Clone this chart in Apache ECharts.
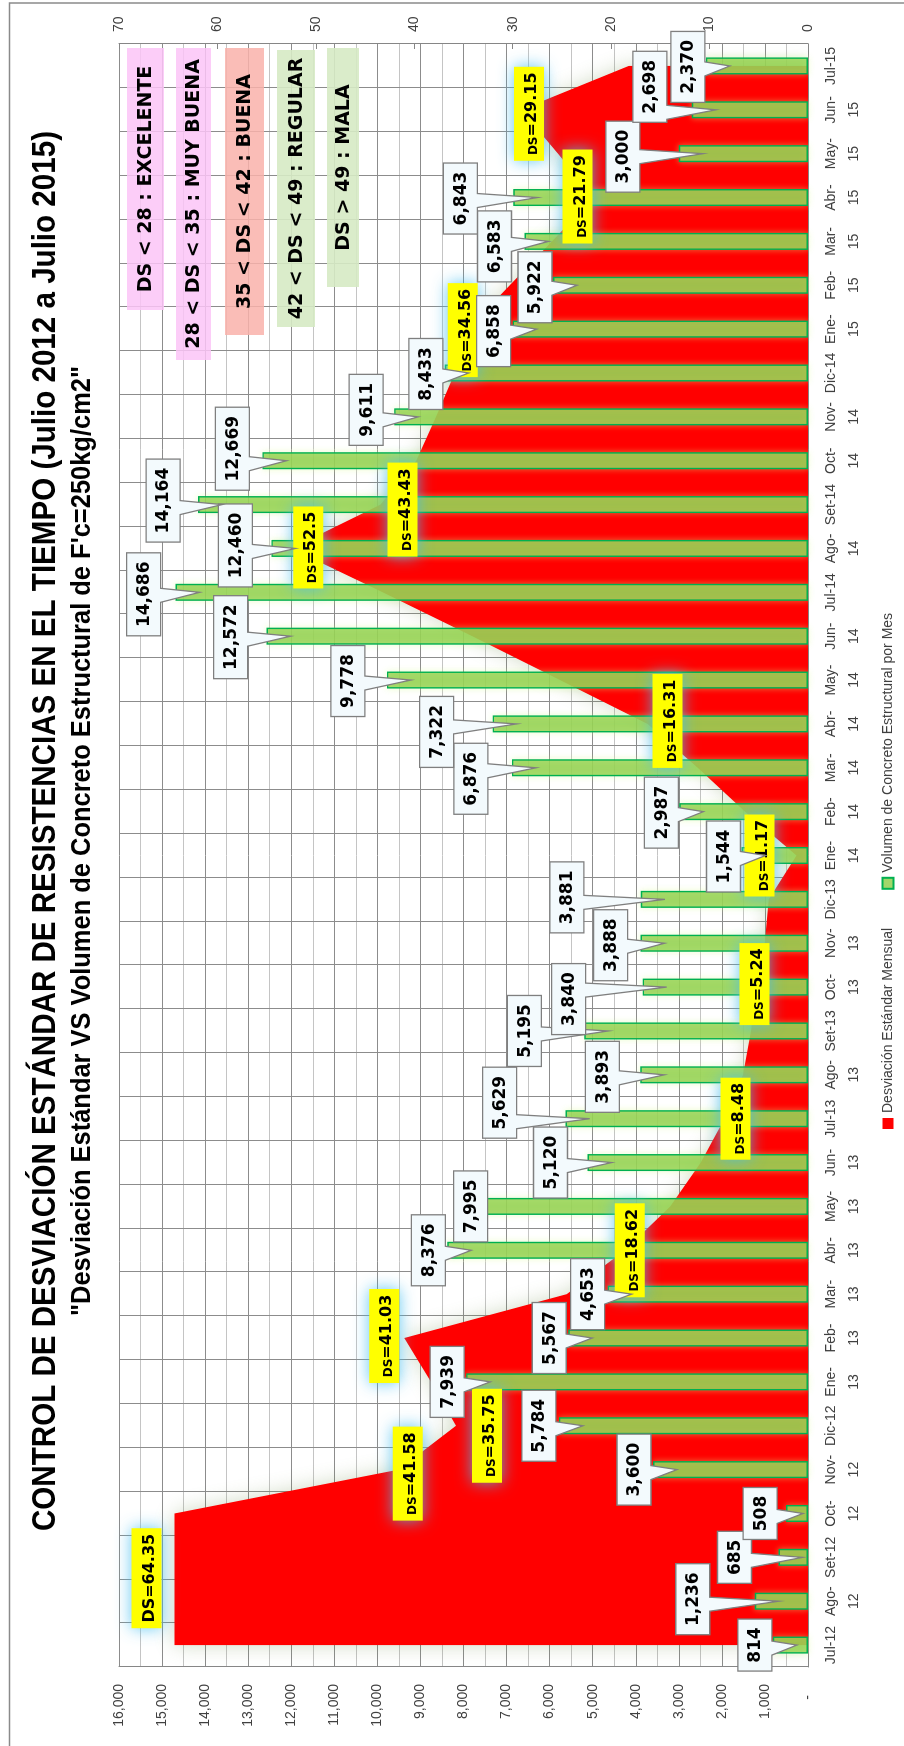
<!DOCTYPE html>
<html lang="es">
<head>
<meta charset="utf-8">
<title>Control de Desviación Estándar</title>
<script src="https://cdn.jsdelivr.net/npm/echarts@6/dist/echarts.min.js"></script>
<style>
  html, body { margin: 0; padding: 0; background: #fff; }
  body { width: 904px; height: 1746px; overflow: hidden; position: relative; }
  /* the chart is laid out in landscape, then turned a quarter turn to stand on the portrait page */
  #chart { position: absolute; left: 0; top: 0; width: 1746px; height: 904px;
           transform-origin: 0 0; transform: translate(0, 1746px) rotate(-90deg); }
</style>
</head>
<body>
<div id="chart"></div>
<script>
// ---- data ----
const categorias = ['Jul-12','Ago-\n12','Set-12','Oct-\n12','Nov-\n12','Dic-12','Ene-\n13','Feb-\n13','Mar-\n13',
  'Abr-\n13','May-\n13','Jun-\n13','Jul-13','Ago-\n13','Set-13','Oct-\n13','Nov-\n13','Dic-13','Ene-\n14',
  'Feb-\n14','Mar-\n14','Abr-\n14','May-\n14','Jun-\n14','Jul-14','Ago-\n14','Set-14','Oct-\n14','Nov-\n14',
  'Dic-14','Ene-\n15','Feb-\n15','Mar-\n15','Abr-\n15','May-\n15','Jun-\n15','Jul-15'];

// monthly structural concrete volume
const volumen = [814, 1236, 685, 508, 3600, 5784, 7939, 5567, 4653, 8376, 7995, 5120, 5629, 3893, 5195, 3840,
  3888, 3881, 1544, 2987, 6876, 7322, 9778, 12572, 14686, 12460, 14164, 12669, 9611, 8433, 6858, 5922,
  6583, 6843, 3000, 2698, 2370];

// monthly standard deviation
const desviacion = [64.35, 64.35, 64.35, 64.35, 41.58, 35.75, 38.3, 41.03, 24.5, 18.62, 14.0, 10.9, 8.48, 6.6,
  5.8, 5.24, 4.4, 4.0, 1.17, 6.4, 11.2, 16.31, 25.2, 34.1, 43.2, 52.5, 43.43, 39.8, 37.8, 35.9, 34.56, 30.3,
  26.0, 21.79, 25.4, 29.15, 18.2];

// axis scales
const escalaVolumen = { min: 0, max: 16000, paso: 1000 };
const escalaDS = { min: 0, max: 70, paso: 10 };

// quality ranges written in the corner of the plot
const rangos = ['DS < 28 : EXCELENTE', '28 < DS < 35 : MUY BUENA', '35 < DS < 42 : BUENA',
  '42 < DS < 49 : REGULAR', 'DS > 49 : MALA'];

const titulo = 'CONTROL DE DESVIACIÓN ESTÁNDAR DE RESISTENCIAS EN EL TIEMPO (Julio 2012 a Julio 2015)';
const subtitulo = '"Desviación Estándar VS Volumen de Concreto Estructural de F\'c=250kg/cm2"';
const nombreDS = 'Desviación Estándar Mensual';
const nombreVol = 'Volumen de Concreto Estructural por Mes';

// ---- layout (landscape pixels) ----
const FAM = '"Liberation Sans", Arial, Helvetica, sans-serif';
const FAM_ETQ = '"DejaVu Sans", Verdana, sans-serif';
const GRID = { left: 79, right: 44, top: 119, bottom: 96 };

// which months carry a DS tag, and where the tag sits relative to its point
const tagsDS = [
  { i: 1, dx: 23, dy: -28 }, { i: 4, dx: -4, dy: 9 }, { i: 5, dx: -10, dy: 31 }, { i: 7, dx: 2, dy: -20 },
  { i: 9, dx: 0, dy: 5 }, { i: 12, dx: 0, dy: 11 }, { i: 15, dx: 3, dy: -2 }, { i: 18, dx: 0, dy: -37 },
  { i: 21, dx: 3, dy: 20 }, { i: 25, dx: 1, dy: 17 }, { i: 26, dx: -5, dy: 22 }, { i: 30, dx: -1, dy: -5 },
  { i: 33, dx: 1, dy: -16 }, { i: 35, dx: -4, dy: 8 }
];

// callout box centre relative to the end of each bar
const posCallout = [
  [0,-18],[2,-62],[0,-44],[0,-26],[0,-19],[0,-20],[0,-19],[0,-19],[0,-20],[0,-19],
  [0,7],[0,-37],[16,-66],[-2,-38],[0,-60],[-12,-74],[-2,-30],[2,-74],[-1,-18],[-1,-18],
  [-11,-41],[-8,-56],[-1,-39],[-1,-36],[-2,-32],[3,-36],[4,-35],[12,-30],[7,-28],[-1,-19],
  [-2,-19],[-2,-18],[-5,-30],[-1,-53],[-3,-56],[23,-42],[-1,-18]
];

// range boxes: x, y, width, height and fill
const cajasRango = [
  [1436, 127, 262, 37, 'rgba(251,196,247,0.85)'],
  [1386, 176, 312, 35, 'rgba(251,196,247,0.85)'],
  [1411, 225, 287, 39, 'rgba(249,178,170,0.85)'],
  [1419, 277, 277, 38, 'rgba(214,234,196,0.9)'],
  [1459, 327, 239, 32, 'rgba(214,234,196,0.9)']
];

// ---- helpers ----
const medidor = document.createElement('canvas').getContext('2d');
function anchoTexto(t, font) { medidor.font = font; return medidor.measureText(t).width; }
function miles(v) { return v.toLocaleString('en-US'); }
function acotar(v, a, b) { return Math.max(a, Math.min(b, v)); }

// rectangle with a wedge reaching out to (tx, ty)
function poligonoCallout(x0, y0, x1, y1, tx, ty) {
  const cx = (x0 + x1) / 2, cy = (y0 + y1) / 2, hw = (x1 - x0) / 2, hh = (y1 - y0) / 2;
  const rect = [[x0, y0], [x1, y0], [x1, y1], [x0, y1]];
  if (tx > x0 - 3 && tx < x1 + 3 && ty > y0 - 3 && ty < y1 + 3) return rect;
  const nx = (tx - cx) / hw, ny = (ty - cy) / hh, bw = 7;
  if (Math.abs(ny) >= Math.abs(nx)) {
    const b = acotar(tx - 3, x0 + bw + 3, x1 - bw - 3);
    if (ny > 0) return [[x0, y0], [x1, y0], [x1, y1], [b + bw, y1], [tx, ty], [b - bw, y1], [x0, y1]];
    return [[x0, y0], [b - bw, y0], [tx, ty], [b + bw, y0], [x1, y0], [x1, y1], [x0, y1]];
  }
  const b = acotar(ty, y0 + bw + 3, y1 - bw - 3);
  if (nx > 0) return [[x0, y0], [x1, y0], [x1, b - bw], [tx, ty], [x1, b + bw], [x1, y1], [x0, y1]];
  return [[x0, y0], [x1, y0], [x1, y1], [x0, y1], [x0, b + bw], [tx, ty], [x0, b - bw]];
}

const fuenteCallout = 'bold 17px ' + FAM_ETQ;

function dibujarCallout(params, api) {
  const i = params.dataIndex;
  const v = api.value(1);
  const fin = api.coord([i, v]);
  const cero = api.coord([i, 0]);
  const txt = miles(v);
  const w = Math.round(anchoTexto(txt, fuenteCallout) + 17), h = 34;
  const cx = fin[0] + posCallout[i][0], cy = fin[1] + posCallout[i][1];
  const x0 = cx - w / 2, x1 = cx + w / 2, y0 = cy - h / 2, y1 = cy + h / 2;
  const tx = fin[0], ty = Math.min(fin[1] + 24, cero[1] - 5);
  return {
    type: 'group',
    children: [
      { type: 'polygon', shape: { points: poligonoCallout(x0, y0, x1, y1, tx, ty) },
        style: { fill: '#F3FAFD', stroke: '#7F7F7F', lineWidth: 1.3 } },
      { type: 'text', x: cx, y: cy + 1,
        style: { text: txt, font: fuenteCallout, fill: '#000', align: 'center', verticalAlign: 'middle' } }
    ]
  };
}

function dibujarTagDS(params, api) {
  const t = tagsDS[params.dataIndex];
  const v = api.value(1);
  const p = api.coord([t.i, v]);
  const num = '=' + String(v);
  const uniforme = t.i === 1;
  const fA = (uniforme ? 'bold 16px ' : 'bold 12px ') + FAM_ETQ;
  const fB = 'bold 16px ' + FAM_ETQ;
  const tw = anchoTexto('DS', fA) + anchoTexto(num, fB);
  const w = Math.round(tw + 11), h = 30;
  const cx = p[0] + t.dx, cy = p[1] + t.dy;
  return {
    type: 'group',
    children: [
      { type: 'rect', shape: { x: cx - w / 2, y: cy - h / 2, width: w, height: h },
        style: { fill: '#FFFF00', shadowBlur: 16, shadowColor: 'rgba(70,190,240,0.85)' } },
      { type: 'text', x: cx, y: cy + 1,
        style: {
          text: '{a|DS}{b|' + num + '}', align: 'center', verticalAlign: 'middle', fill: '#000',
          rich: {
            a: { font: fA, fill: '#000', verticalAlign: 'bottom', lineHeight: 20 },
            b: { font: fB, fill: '#000', verticalAlign: 'bottom', lineHeight: 20 }
          }
        } }
    ]
  };
}

// ---- chart ----
const chart = echarts.init(document.getElementById('chart'), null, { renderer: 'canvas', width: 1746, height: 904 });

const fTit = 'bold 34px ' + FAM;
const fSub = 'bold 28px ' + FAM;
const escTit = 1400 / anchoTexto(titulo, fTit);
const escSub = 950 / anchoTexto(subtitulo, fSub);

const graficos = [
  { type: 'rect', z: 0, shape: { x: -5, y: 9.5, width: 1748, height: 1000 },
    style: { fill: null, stroke: '#8A8A8A', lineWidth: 1.5 } },
  { type: 'text', z: 3, x: 915, y: 46, scaleX: escTit,
    style: { text: titulo, font: fTit, fill: '#000', align: 'center', verticalAlign: 'middle' } },
  { type: 'text', z: 3, x: 905, y: 82, scaleX: escSub,
    style: { text: subtitulo, font: fSub, fill: '#000', align: 'center', verticalAlign: 'middle' } }
];
rangos.forEach((r, k) => {
  const [x, y, w, h, c] = cajasRango[k];
  graficos.push({ type: 'rect', z: 1, shape: { x, y, width: w, height: h }, style: { fill: c } });
  graficos.push({ type: 'text', z: 1, x: x + w / 2, y: y + h / 2 + 1,
    style: { text: r, font: 'bold 19px ' + FAM_ETQ, fill: '#000', align: 'center', verticalAlign: 'middle' } });
});

const option = {
  animation: false,
  backgroundColor: '#ffffff',
  grid: { left: GRID.left, right: GRID.right, top: GRID.top, bottom: GRID.bottom },
  legend: {
    data: [nombreDS, nombreVol],
    left: 612, top: 876, itemWidth: 11, itemHeight: 11, itemGap: 38, icon: 'rect',
    textStyle: { fontFamily: FAM, fontSize: 14, color: '#404040' }
  },
  xAxis: {
    type: 'category', data: categorias, boundaryGap: true,
    axisLine: { lineStyle: { color: '#868686', width: 1 } },
    axisTick: { show: false },
    axisLabel: { interval: 0, fontFamily: FAM, fontSize: 14, lineHeight: 23, color: '#404040', margin: 12 },
    splitLine: { show: true, interval: 0, lineStyle: { color: '#8C8C8C', width: 1 } }
  },
  yAxis: [
    {
      type: 'value', position: 'left', min: escalaVolumen.min, max: escalaVolumen.max, interval: escalaVolumen.paso,
      axisLine: { show: true, lineStyle: { color: '#868686' } },
      axisTick: { show: false },
      axisLabel: {
        fontFamily: FAM, fontSize: 14, color: '#404040', margin: 17,
        formatter: v => v === 0 ? '{z|-}' : miles(v),
        rich: { z: { fontFamily: FAM, fontSize: 14, color: '#404040', padding: [0, 11, 0, 0] } }
      },
      splitLine: { show: true, lineStyle: { color: '#8C8C8C', width: 1 } },
      minorTick: { show: false, splitNumber: 2 },
      minorSplitLine: { show: true, lineStyle: { color: '#C4C4C4', width: 1 } }
    },
    {
      type: 'value', position: 'right', min: escalaDS.min, max: escalaDS.max, interval: escalaDS.paso,
      axisLine: { show: true, lineStyle: { color: '#868686' } },
      axisTick: { show: true, inside: true, length: 5, lineStyle: { color: '#868686' } },
      axisLabel: { fontFamily: FAM, fontSize: 14, color: '#404040', margin: 12 },
      splitLine: { show: false }
    }
  ],
  series: [
    {
      name: nombreDS, type: 'line', yAxisIndex: 1, data: desviacion, z: 1,
      symbol: 'none', lineStyle: { width: 0 },
      itemStyle: { color: '#FF0000' },
      areaStyle: { color: '#FF0000', opacity: 1, shadowBlur: 20, shadowColor: 'rgba(110,140,70,0.32)' }
    },
    {
      name: nombreVol, type: 'bar', yAxisIndex: 0, data: volumen, z: 2, barWidth: 17,
      itemStyle: { color: 'rgba(146,208,80,0.85)', borderColor: '#00B050', borderWidth: 1.4,
                   shadowBlur: 6, shadowColor: 'rgba(214,250,140,0.45)' }
    },
    {
      type: 'custom', yAxisIndex: 1, z: 5,
      data: tagsDS.map(t => [t.i, desviacion[t.i]]),
      renderItem: dibujarTagDS
    },
    {
      type: 'custom', yAxisIndex: 0, z: 6,
      data: volumen.map((v, i) => [i, v]),
      renderItem: dibujarCallout
    }
  ],
  graphic: { elements: graficos }
};

chart.setOption(option);
</script>
</body>
</html>
